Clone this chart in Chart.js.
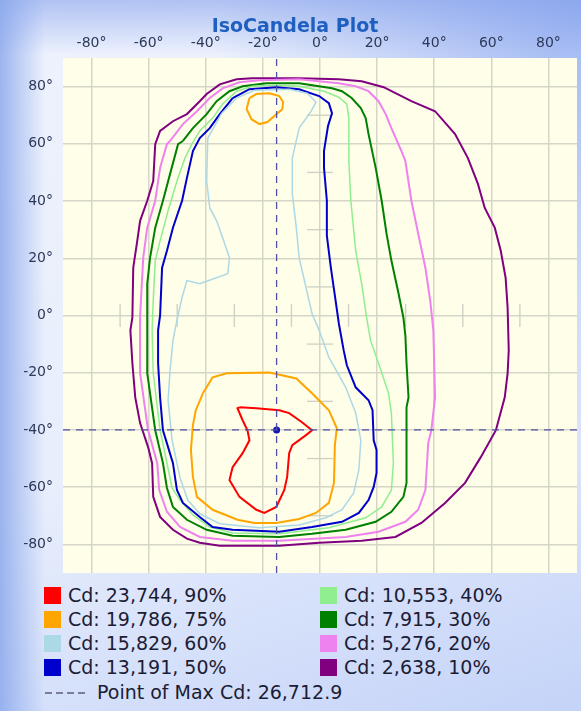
<!DOCTYPE html>
<html>
<head>
<meta charset="utf-8">
<script src="https://cdn.jsdelivr.net/npm/chart.js@4.4.1/dist/chart.umd.min.js"></script>
<style>
  html, body { margin: 0; padding: 0; }
  body { width: 581px; height: 711px; overflow: hidden; font-family: "DejaVu Sans", sans-serif; }
  .panel {
    position: relative; width: 581px; height: 711px; overflow: hidden;
    background:
      linear-gradient(to right, rgba(135,165,235,0.8) 0px, rgba(135,165,235,0) 45px),
      linear-gradient(to bottom, rgba(125,155,235,0.55) 0px, rgba(125,155,235,0) 55px),
      radial-gradient(ellipse at 100% 0%, rgba(110,145,235,0.6) 0%, rgba(110,145,235,0) 45%),
      linear-gradient(160deg, #eef2fd 0%, #e8eefc 55%, #c4d3f8 100%);
  }
  .title {
    position: absolute; left: 0; top: 14px; width: 590px; text-align: center;
    font: bold 19px "DejaVu Sans", sans-serif; color: #1f5fbf;
  }
  #wrap { position: absolute; left: 0; top: 0; width: 581px; height: 580px; }
  .legend { position: absolute; left: 0; top: 583px; width: 581px; font-size: 19px; color: #1c1c34; }
  .item { position: absolute; height: 24px; line-height: 24px; white-space: nowrap; }
  .box { position: absolute; left: 0; top: 4px; width: 17px; height: 17px; }
  .txt { position: absolute; left: 24px; top: 0; }
  .dash {
    position: absolute; left: 1px; top: 12px; width: 42px; height: 1.5px;
    background: repeating-linear-gradient(to right, #7c7c9c 0 7px, transparent 7px 11px);
  }
</style>
</head>
<body>
<div class="panel">
  <div id="wrap"><canvas id="isoChart" width="581" height="580"></canvas></div>
  <div class="title">IsoCandela Plot</div>
  <div class="legend" id="legend"></div>
</div>
<script>
// Tick labels (degrees)
const xTicks = [-80, -60, -40, -20, 0, 20, 40, 60, 80];
const yTicks = [80, 60, 40, 20, 0, -20, -40, -60, -80];

// Contour levels
const levelCd = [23744, 19786, 15829, 13191, 10553, 7915, 5276, 2638];
const levelPct = [90, 75, 60, 50, 40, 30, 20, 10];
const levelColors = ['#ff0000', '#ffa500', '#add8e6', '#0000cd', '#90ee90', '#008000', '#ee82ee', '#800080'];

// Point of max candela
const maxCd = 26712.9;
const maxPoint = [-15.2, -40];

// Contours as [horizontal deg, vertical deg]
const cd90 = [[-28.2,-32.1],[-22.3,-32.4],[-14.3,-33.1],[-10.8,-34.1],[-6.3,-37.3],[-2.8,-40.1],[-4.9,-41.8],
  [-9.7,-45.3],[-10.8,-48.1],[-11.5,-56.4],[-12.5,-61],[-15.3,-66.9],[-19.5,-69],[-22.3,-67.9],[-28.2,-63.4],
  [-31.7,-57.5],[-30.6,-53],[-27.1,-48.1],[-24.7,-43.6],[-25.4,-40.1],[-27.1,-36.6],[-28.9,-32.4]];

const cd75 = [[-41,-27.2],[-37.6,-21.6],[-32.7,-20.2],[-17.7,-19.9],[-8.3,-22],[-2.8,-27.2],[3.1,-33.1],
  [5.9,-39.4],[5.2,-45.3],[4.9,-58.5],[3.1,-65.5],[-1.4,-69],[-7.3,-71.1],[-15.3,-72.5],[-23,-72.5],
  [-28.9,-71.4],[-37.6,-67.9],[-43.1,-63.4],[-44.5,-56.4],[-45.2,-47],[-44.5,-38.3],[-43.5,-33.1]];

const cd75top = [[-24.7,76],[-22.3,77.4],[-17.7,77.7],[-14.3,76.7],[-12.9,74.6],[-13.2,72.1],[-15.7,70],
  [-18.4,67.6],[-21.2,66.9],[-24,68.6],[-25.7,72.1]];

const cd60 = [[-39.3,62],[-34.4,70.7],[-29.2,76],[-23,78.7],[-10.8,79.1],[-4.5,77.7],[-1.4,74.6],[-3.1,71.4],
  [-7.3,65.5],[-9.7,55],[-9.7,42.5],[-8.3,30.7],[-7.3,20.2],[-4.9,9.8],[-2.8,0.7],[-0.3,-5.2],[3.1,-14.6],
  [9,-25.1],[12.5,-34.1],[14.3,-43.6],[13.6,-54],[11.8,-62],[7.7,-67.9],[2.1,-70.7],[-7.3,-73.2],
  [-21.2,-74.2],[-35.1,-72.8],[-42.1,-69.3],[-46.3,-64.5],[-49,-56.8],[-51.8,-43.6],[-53.2,-29.6],
  [-52.5,-19.2],[-51.5,-8.7],[-50.1,-1.7],[-48.3,6.3],[-46.6,12.2],[-42.1,11.1],[-32.3,14.6],[-31.7,20.2],
  [-34.1,27.2],[-36.2,33.1],[-38.6,37.6],[-39.7,47]];

const cd50 = [[-30.6,76],[-24.7,79.1],[-15.3,79.8],[-7.3,79.1],[-0.3,76.7],[3.1,74.2],[4.2,70.7],[2.8,66.2],
  [1.4,57.5],[1.4,51.6],[2.4,40.1],[2.4,27.9],[3.8,16.7],[5.2,7],[6.6,-2.8],[8.3,-12.2],[9.4,-17.4],
  [12.5,-25.1],[17,-29.6],[18.4,-33.1],[18.8,-43.6],[19.8,-47],[19.8,-55],[18.8,-59.9],[17,-64.5],
  [13.6,-69],[7.7,-72.1],[-2.8,-73.9],[-14.3,-75.6],[-30.6,-74.9],[-37.6,-73.9],[-42.1,-70.4],[-48,-65.5],
  [-50.1,-61],[-51.5,-51.6],[-53.2,-46],[-55,-40.1],[-56,-28.6],[-56.7,-16.7],[-56.7,-5.2],[-56,0],
  [-55.3,16.7],[-53.6,22.6],[-51.5,30.7],[-48.3,40.1],[-46.6,48.1],[-44.5,57.5],[-42.1,62],[-38.6,65.5],
  [-35.1,70.4]];

const cd40 = [[-44.9,59.9],[-42.1,64.5],[-37.6,69],[-34.1,73.9],[-29.2,78.4],[-23.7,80.1],[-15.3,80.5],
  [-7.3,80.1],[1.4,78.4],[6.6,76.3],[9.4,73.9],[10.1,69],[10.1,54],[10.8,40.1],[12.5,22.6],[14.6,11.1],
  [16.3,-0.7],[17.7,-8.7],[20.5,-16.7],[24,-27.2],[25,-34.1],[25.7,-51.6],[25,-61],[21.6,-66.9],
  [16,-70.7],[3.1,-74.2],[-14.3,-76.3],[-30.6,-76],[-38.6,-73.9],[-44.5,-69.7],[-49,-64.5],[-51.8,-60.3],
  [-53.6,-51.6],[-56,-40.1],[-58.4,-20.2],[-58.8,-5.2],[-58.4,5.2],[-57.7,19.2],[-56,26.1],[-53.2,36.6],
  [-50.1,47],[-47.3,55]];

const cd30 = [[-48,61],[-44.5,65.5],[-39.7,70.4],[-36.2,74.9],[-31.7,78.4],[-27.1,80.1],[-18.8,81.2],
  [-7.3,81.2],[4.2,79.4],[7.7,78.4],[11.1,76],[14.3,72.5],[16,69],[17,63.4],[19.5,51.6],[21.6,40.1],
  [23.3,28.6],[25,19.2],[27.5,7.7],[29.2,-0.7],[29.9,-7],[30.3,-16.7],[31,-28.6],[30.3,-32.1],[30.3,-58.5],
  [29.2,-63.4],[25,-68.6],[19.5,-72.1],[9,-74.9],[-2.8,-76.3],[-14.3,-77.4],[-30.6,-77],[-39.7,-74.9],
  [-46.6,-71.4],[-51.5,-66.9],[-53.6,-60.3],[-55,-51.6],[-57.7,-40.1],[-60.5,-20.2],[-60.5,-5.2],
  [-60.5,0],[-60.5,11.1],[-59.5,20.2],[-57.7,30.7],[-55,40.1],[-52.5,49.5],[-49.7,59.9]];

const cd20 = [[-52.5,61],[-48,66.9],[-43.1,71.4],[-38.6,76],[-34.1,79.4],[-28.2,81.5],[-21.2,82.2],
  [-7.3,82.6],[6.6,81.2],[12.5,80.1],[17,78.4],[20.5,74.9],[23,70.4],[25,65.5],[28.5,57.5],[29.9,54],
  [32,40.1],[34.4,28.6],[36.9,16.7],[38.6,5.2],[39.7,-5.2],[40.3,-28.6],[39,-40.1],[37.9,-44.6],
  [36.9,-61],[34.4,-67.9],[29.9,-72.1],[20.5,-75.6],[9,-77.4],[-14.3,-78.7],[-30.6,-78.7],[-42.1,-77.4],
  [-49,-73.9],[-53.6,-68.6],[-56.3,-61],[-57,-51.6],[-60.2,-40.1],[-63,-20.2],[-63,-5.2],[-63,0],
  [-61.9,20.2],[-60.5,30.7],[-57.7,40.1],[-56,51.6],[-53.6,59.9]];

const cd10 = [[-29.2,82.6],[-23.7,82.9],[-7.3,82.9],[6.6,82.6],[14.6,81.9],[22.3,79.8],[32,74.9],
  [40.3,71.4],[47.3,63.4],[51.8,55],[55.3,46],[57.7,37.6],[61.2,30.7],[63.3,22.6],[65,13.2],[65.7,2.8],
  [66.1,-12.2],[65.7,-20.2],[64.7,-28.6],[61.6,-40.1],[56.3,-49.5],[50.8,-58.5],[43.8,-65.5],[35.5,-72.5],
  [26.4,-77.4],[14.6,-78.7],[-0.3,-79.4],[-14.3,-80.5],[-35.1,-80.5],[-42.1,-79.4],[-46.6,-78],
  [-51.5,-74.9],[-56,-70.4],[-58.4,-63.4],[-58.8,-51.6],[-60.2,-46],[-63,-37.6],[-64.7,-28.6],
  [-65.7,-16.7],[-66.4,-5.2],[-65.7,-0.7],[-65.4,16.7],[-64,26.1],[-63,33.1],[-60.5,40.1],[-58.4,47],
  [-57.7,59.9],[-56,64.5],[-51.5,67.9],[-46.6,70.4],[-42.1,74.9],[-39.7,77.4],[-35.1,80.8]];

// faint cross marks of the measuring grid
const crossX = [-70, -50, -30, -10, 10, 30, 50, 70];
const crossY = [70, 50, 30, 10, -10, -30, -50, -70];

function closed(pts) {
    const out = pts.map(p => ({ x: p[0], y: p[1] }));
    out.push({ x: pts[0][0], y: pts[0][1] });
    return out;
}

function lineSet(data, color, width) {
    return {
        data: data,
        showLine: true,
        borderColor: color,
        borderWidth: width,
        pointRadius: 0,
        fill: false,
        tension: 0
    };
}

const contours = [cd90, cd75, cd60, cd50, cd40, cd30, cd20, cd10];
const widths = [2, 2, 1.5, 2, 1.5, 2, 2, 2];

const datasets = [];

// crosshair through the max point
datasets.push(Object.assign(lineSet([{ x: maxPoint[0], y: -90 }, { x: maxPoint[0], y: 90 }], '#5050a4', 1.3), { borderDash: [7, 6] }));
datasets.push(Object.assign(lineSet([{ x: -90, y: maxPoint[1] }, { x: 90, y: maxPoint[1] }], '#5050a4', 1.3), { borderDash: [7, 6] }));
datasets.push({
    data: [{ x: maxPoint[0], y: maxPoint[1] }],
    showLine: false,
    pointRadius: 3.5,
    pointBackgroundColor: '#1414b4',
    pointBorderWidth: 0
});

contours.forEach((c, i) => {
    datasets.push(lineSet(closed(c), levelColors[i], widths[i]));
    if (i === 1) datasets.push(lineSet(closed(cd75top), levelColors[i], widths[i]));
});

crossX.forEach(x => datasets.push(lineSet([{ x: x, y: -4 }, { x: x, y: 4 }], '#cfcfc4', 1.3)));
crossY.forEach(y => datasets.push(lineSet([{ x: -4.5, y: y }, { x: 4.5, y: y }], '#cfcfc4', 1.3)));

// pale plot background
const plotBg = {
    id: 'plotBg',
    beforeDraw(chart) {
        const a = chart.chartArea;
        const c = chart.ctx;
        c.save();
        c.fillStyle = '#fefee9';
        c.fillRect(a.left, a.top, a.right - a.left, a.bottom - a.top);
        c.restore();
    }
};

const tickFont = { family: '"DejaVu Sans", sans-serif', size: 14 };
const tickColor = '#2c3957';
const gridColor = '#d6d6c8';

new Chart(document.getElementById('isoChart'), {
    type: 'scatter',
    data: { datasets: datasets },
    options: {
        responsive: false,
        animation: false,
        layout: { padding: { left: 0, right: 1, top: 0, bottom: 7 } },
        plugins: {
            legend: { display: false },
            tooltip: { enabled: false },
            title: { display: false }
        },
        scales: {
            x: {
                type: 'linear',
                position: 'top',
                min: -90,
                max: 90,
                afterBuildTicks: s => { s.ticks = xTicks.map(v => ({ value: v })); },
                afterFit: s => { s.height = 58; s.paddingLeft = 0; s.paddingRight = 0; },
                ticks: { callback: v => v + '°', color: tickColor, font: tickFont, padding: 6, maxRotation: 0, autoSkip: false },
                grid: { color: gridColor, lineWidth: 1.5, drawTicks: false },
                border: { display: false }
            },
            y: {
                type: 'linear',
                min: -90,
                max: 90,
                afterBuildTicks: s => { s.ticks = yTicks.map(v => ({ value: v })); },
                afterFit: s => { s.width = 63; s.paddingTop = 0; s.paddingBottom = 0; },
                ticks: { callback: v => v + '°', color: tickColor, font: tickFont, padding: 10, autoSkip: false },
                grid: { color: gridColor, lineWidth: 1.5, drawTicks: false },
                border: { display: false }
            }
        }
    },
    plugins: [plotBg]
});

// legend, two columns, filled column by column
const legend = document.getElementById('legend');
levelCd.forEach((cd, i) => {
    const col = Math.floor(i / 4);
    const row = i % 4;
    const item = document.createElement('div');
    item.className = 'item';
    item.style.left = (col === 0 ? 44 : 320) + 'px';
    item.style.top = (row * 24) + 'px';
    item.innerHTML = '<span class="box" style="background:' + levelColors[i] + '"></span>' +
        '<span class="txt">Cd: ' + cd.toLocaleString('en-US') + ', ' + levelPct[i] + '%</span>';
    legend.appendChild(item);
});
const maxItem = document.createElement('div');
maxItem.className = 'item';
maxItem.style.left = '44px';
maxItem.style.top = '97px';
maxItem.innerHTML = '<span class="dash"></span>' +
    '<span class="txt" style="left:53px">Point of Max Cd: ' + maxCd.toLocaleString('en-US', { minimumFractionDigits: 1 }) + '</span>';
legend.appendChild(maxItem);
</script>
</body>
</html>
